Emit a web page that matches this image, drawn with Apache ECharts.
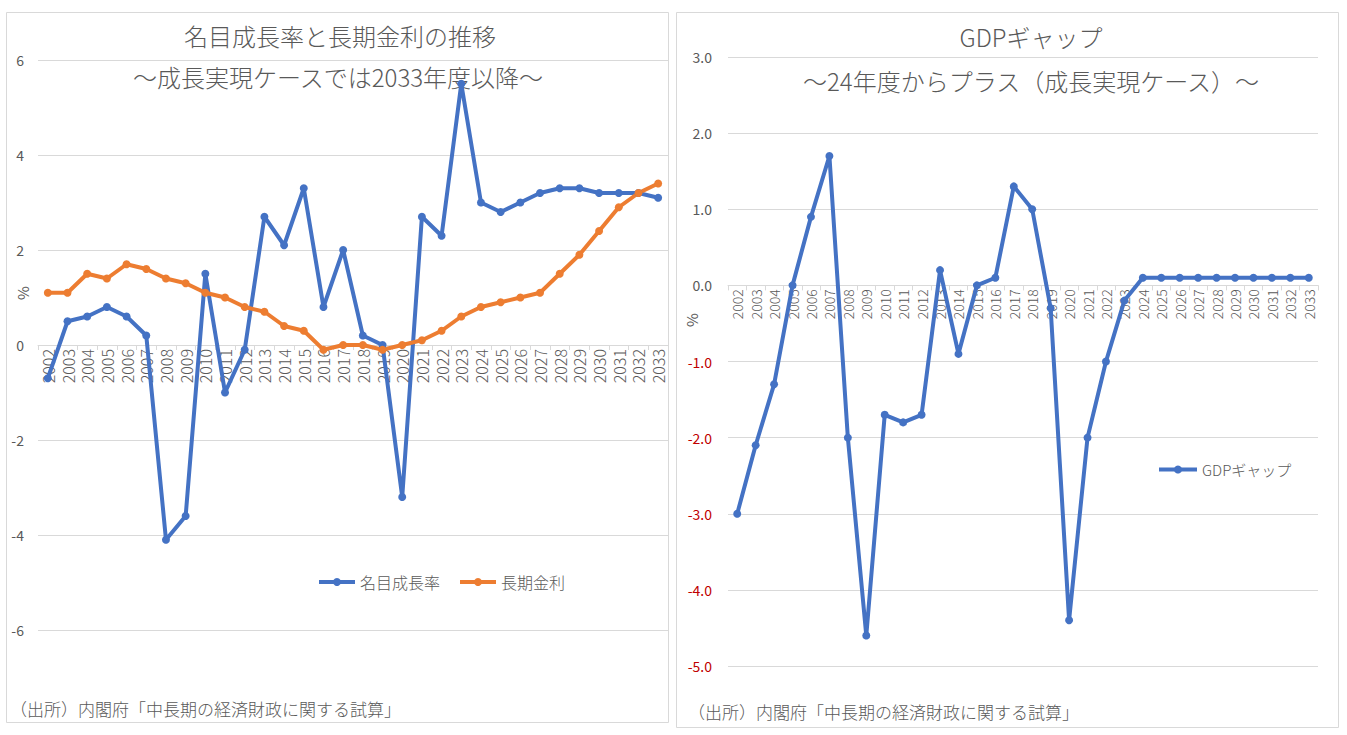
<!DOCTYPE html>
<html>
<head>
<meta charset="utf-8">
<script src="https://cdn.jsdelivr.net/npm/echarts@6/dist/echarts.min.js"></script>
<style>
html, body { margin: 0; padding: 0; background: #ffffff; }
#chart { width: 1347px; height: 735px; }
</style>
</head>
<body>
<div id="chart"></div>
<script>
// 年度
const years = ['2002', '2003', '2004', '2005', '2006', '2007', '2008', '2009', '2010', '2011',
  '2012', '2013', '2014', '2015', '2016', '2017', '2018', '2019', '2020', '2021',
  '2022', '2023', '2024', '2025', '2026', '2027', '2028', '2029', '2030', '2031',
  '2032', '2033'];

// 名目成長率 (%)
const nominalGrowth = [-0.7, 0.5, 0.6, 0.8, 0.6, 0.2, -4.1, -3.6, 1.5, -1.0,
  -0.1, 2.7, 2.1, 3.3, 0.8, 2.0, 0.2, 0.0, -3.2, 2.7,
  2.3, 5.5, 3.0, 2.8, 3.0, 3.2, 3.3, 3.3, 3.2, 3.2,
  3.2, 3.1];

// 長期金利 (%)
const longRate = [1.1, 1.1, 1.5, 1.4, 1.7, 1.6, 1.4, 1.3, 1.1, 1.0,
  0.8, 0.7, 0.4, 0.3, -0.1, 0.0, 0.0, -0.1, 0.0, 0.1,
  0.3, 0.6, 0.8, 0.9, 1.0, 1.1, 1.5, 1.9, 2.4, 2.9,
  3.2, 3.4];

// GDPギャップ (%)
const gdpGap = [-3.0, -2.1, -1.3, 0.0, 0.9, 1.7, -2.0, -4.6, -1.7, -1.8,
  -1.7, 0.2, -0.9, 0.0, 0.1, 1.3, 1.0, -0.3, -4.4, -2.0,
  -1.0, -0.2, 0.1, 0.1, 0.1, 0.1, 0.1, 0.1, 0.1, 0.1,
  0.1, 0.1];

const FONT = '"Noto Sans CJK JP", "Noto Sans", sans-serif';
const GRAY = '#595959';
const BLUE = '#4472C4';
const ORANGE = '#ED7D31';

let myChart = echarts.init(document.getElementById('chart'), null, { renderer: 'svg' });

function lineSeries(name, data, color, idx) {
  return {
    name: name,
    type: 'line',
    xAxisIndex: idx,
    yAxisIndex: idx,
    data: data,
    symbol: 'circle',
    symbolSize: 8,
    lineStyle: { width: 4, color: color },
    itemStyle: { color: color },
    animation: false
  };
}

function catAxis(idx, size) {
  return {
    type: 'category',
    gridIndex: idx,
    data: years,
    boundaryGap: true,
    offset: 0,
    axisLine: { onZero: false, lineStyle: { color: '#D9D9D9' } },
    axisTick: { show: true, length: 5, lineStyle: { color: '#D9D9D9' } },
    axisLabel: { rotate: 90, interval: 0, color: GRAY, fontSize: size, fontWeight: 300, margin: 4, fontFamily: FONT }
  };
}

const option = {
  backgroundColor: '#ffffff',
  textStyle: { fontFamily: FONT },
  graphic: [
    // パネル枠
    { type: 'rect', shape: { x: 6.5, y: 12.5, width: 662, height: 710 }, style: { fill: 'none', stroke: '#D9D9D9', lineWidth: 1 }, z: -1 },
    { type: 'rect', shape: { x: 676.5, y: 12.5, width: 662, height: 715 }, style: { fill: 'none', stroke: '#D9D9D9', lineWidth: 1 }, z: -1 },
    // タイトル
    { type: 'text', x: 340, y: 35, style: { text: '名目成長率と長期金利の推移', fill: GRAY, font: '300 24px ' + FONT, textAlign: 'center', textVerticalAlign: 'middle' } },
    { type: 'text', x: 338, y: 76, style: { text: '～成長実現ケースでは2033年度以降～', fill: GRAY, font: '300 24px ' + FONT, textAlign: 'center', textVerticalAlign: 'middle' } },
    { type: 'text', x: 1031, y: 36, style: { text: 'GDPギャップ', fill: GRAY, font: '300 24px ' + FONT, textAlign: 'center', textVerticalAlign: 'middle' } },
    { type: 'text', x: 1031, y: 80, style: { text: '～24年度からプラス（成長実現ケース）～', fill: GRAY, font: '300 24px ' + FONT, textAlign: 'center', textVerticalAlign: 'middle' } },
    // 軸名 %
    { type: 'text', x: 22, y: 293, rotation: Math.PI / 2, style: { text: '%', fill: GRAY, font: '15px ' + FONT, textAlign: 'center', textVerticalAlign: 'middle' } },
    { type: 'text', x: 691, y: 320, rotation: Math.PI / 2, style: { text: '%', fill: GRAY, font: '15px ' + FONT, textAlign: 'center', textVerticalAlign: 'middle' } },
    // 出所
    { type: 'text', x: 10, y: 708, style: { text: '（出所）内閣府「中長期の経済財政に関する試算」', fill: GRAY, font: '300 17px ' + FONT, textAlign: 'left', textVerticalAlign: 'middle' } },
    { type: 'text', x: 688, y: 711, style: { text: '（出所）内閣府「中長期の経済財政に関する試算」', fill: GRAY, font: '300 17px ' + FONT, textAlign: 'left', textVerticalAlign: 'middle' } }
  ],
  legend: [
    {
      data: ['名目成長率', '長期金利'],
      left: 312,
      top: 569,
      itemWidth: 36,
      itemHeight: 10,
      itemGap: 18,
      lineStyle: { width: 4 },
      textStyle: { color: GRAY, fontSize: 16, fontWeight: 300, fontFamily: FONT }
    },
    {
      data: ['GDPギャップ'],
      left: 1152,
      top: 457,
      itemWidth: 38,
      itemHeight: 10,
      lineStyle: { width: 4 },
      textStyle: { color: GRAY, fontSize: 15, fontWeight: 300, fontFamily: FONT }
    }
  ],
  grid: [
    { left: 38, right: 679, top: 60, bottom: 105 },
    { left: 728, right: 29, top: 57, bottom: 69 }
  ],
  xAxis: [catAxis(0, 16), catAxis(1, 14)],
  yAxis: [
    {
      type: 'value',
      gridIndex: 0,
      min: -6,
      max: 6,
      interval: 2,
      axisLine: { show: false },
      axisTick: { show: false },
      splitLine: { lineStyle: { color: '#D9D9D9' } },
      axisLabel: { color: GRAY, fontSize: 14, margin: 14, fontFamily: FONT }
    },
    {
      type: 'value',
      gridIndex: 1,
      min: -5,
      max: 3,
      interval: 1,
      axisLine: { show: false },
      axisTick: { show: false },
      splitLine: { lineStyle: { color: '#D9D9D9' } },
      axisLabel: {
        fontSize: 14,
        margin: 16,
        fontFamily: FONT,
        formatter: function (v) { return v.toFixed(1); },
        color: function (v) { return Number(v) < 0 ? '#C00000' : GRAY; }
      }
    }
  ],
  series: [
    lineSeries('名目成長率', nominalGrowth, BLUE, 0),
    lineSeries('長期金利', longRate, ORANGE, 0),
    lineSeries('GDPギャップ', gdpGap, BLUE, 1)
  ]
};

myChart.setOption(option);

// x軸を0の位置へ移動（Excel風）
const zero0 = myChart.convertToPixel({ yAxisIndex: 0 }, 0);
const min0 = myChart.convertToPixel({ yAxisIndex: 0 }, -6);
const zero1 = myChart.convertToPixel({ yAxisIndex: 1 }, 0);
const min1 = myChart.convertToPixel({ yAxisIndex: 1 }, -5);
myChart.setOption({
  xAxis: [{ offset: zero0 - min0 }, { offset: zero1 - min1 }]
});
</script>
</body>
</html>
